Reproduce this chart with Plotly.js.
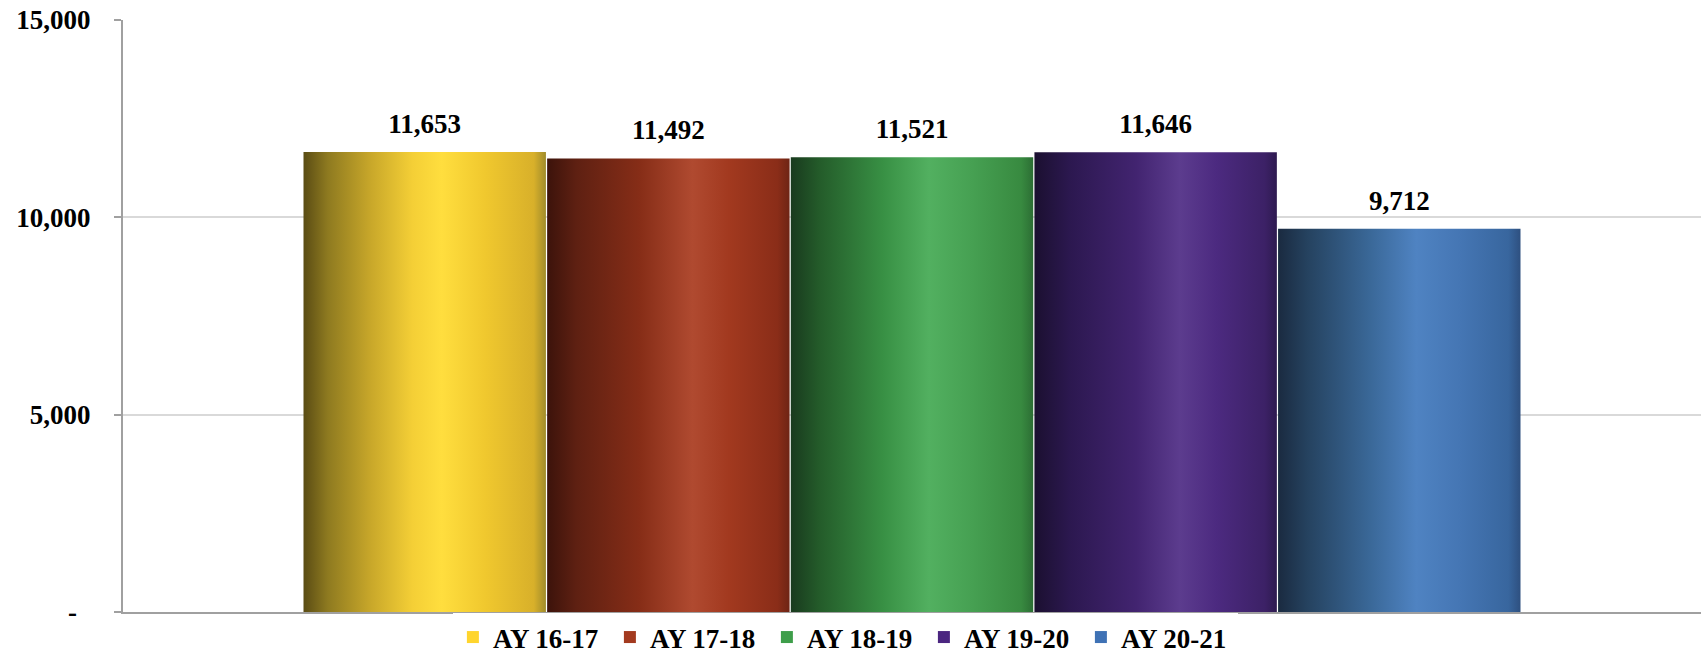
<!DOCTYPE html>
<html>
<head>
<meta charset="utf-8">
<script src="https://cdn.plot.ly/plotly-3.0.1.min.js"></script>
<style>
  html, body { margin: 0; padding: 0; background: #fff; }
  #chart { width: 1701px; height: 662px; }
</style>
</head>
<body>
<div id="chart"></div>
<script>
// ---- data ----
const categories = ['AY 16-17', 'AY 17-18', 'AY 18-19', 'AY 19-20', 'AY 20-21'];
const values = [11653, 11492, 11521, 11646, 9712];
const tickVals = [0, 5000, 10000, 15000];
const tickText = ['-\u00a0\u00a0', '5,000', '10,000', '15,000'];

// ---- styles ----
const legendColors = ['#FFD52E', '#A33A1F', '#3E9E4A', '#4B2680', '#3F72B5'];
const gradients = [
  [[0, '#5A4C14'], [0.1, '#8E7A20'], [0.28, '#C9A82A'], [0.45, '#F4CF36'], [0.57, '#FFDE3E'], [0.75, '#F0C82E'], [0.95, '#D8B02A'], [1, '#A08C2C']],
  [[0, '#3C130B'], [0.12, '#5E2012'], [0.38, '#862D17'], [0.6, '#B04A30'], [0.75, '#A2391F'], [0.95, '#8A2D18'], [1, '#6E2414']],
  [[0, '#193A1E'], [0.12, '#245C2A'], [0.38, '#389044'], [0.57, '#52B060'], [0.75, '#46A052'], [0.95, '#388A40'], [1, '#2C6E34']],
  [[0, '#1B1030'], [0.15, '#2C1850'], [0.42, '#422470'], [0.6, '#5C3C8E'], [0.75, '#4C2A80'], [0.95, '#3C2166'], [1, '#2E1A50']],
  [[0, '#1A2A40'], [0.12, '#25425F'], [0.38, '#3A6898'], [0.57, '#4F83C2'], [0.75, '#4576B4'], [0.95, '#38669E'], [1, '#2E5080']]
];
const fontFamily = '"Liberation Serif", "Times New Roman", serif';
const fontSize = 27;

const traces = categories.map((name, i) => ({
  type: 'bar',
  x: ['Total'],
  y: [values[i]],
  name: name,
  marker: { color: legendColors[i], line: { width: 0 } },
  text: [values[i].toLocaleString('en-US')],
  textposition: 'outside',
  cliponaxis: false,
  textfont: { family: fontFamily, size: fontSize, color: '#000', weight: 700 },
  hoverinfo: 'name+y'
}));

const layout = {
  width: 1701,
  height: 662,
  margin: { l: 123, r: 0, t: 20, b: 50 },
  paper_bgcolor: '#fff',
  plot_bgcolor: '#fff',
  font: { family: fontFamily, size: fontSize, color: '#000', weight: 700 },
  barmode: 'group',
  bargap: 0.228,
  bargroupgap: 0.005,
  showlegend: true,
  legend: {
    orientation: 'h',
    xref: 'container', yref: 'container',
    x: 0.497, xanchor: 'center',
    y: -0.008, yanchor: 'bottom',
    font: { family: fontFamily, size: fontSize, color: '#000', weight: 700 },
    entrywidth: 112,
    traceorder: 'normal'
  },
  xaxis: {
    showticklabels: false,
    showgrid: false,
    showline: true,
    linecolor: '#A0A0A0',
    linewidth: 2,
    ticks: '',
    zeroline: false,
    fixedrange: true
  },
  yaxis: {
    range: [0, 15000],
    tickvals: tickVals,
    ticktext: tickText,
    ticks: 'outside',
    ticklen: 7,
    tickwidth: 2,
    tickcolor: '#A0A0A0',
    ticklabelstandoff: 18,
    showline: true,
    linecolor: '#A0A0A0',
    linewidth: 2,
    showgrid: true,
    gridcolor: '#D9D9D9',
    gridwidth: 2,
    zeroline: false,
    fixedrange: true,
    tickfont: { family: fontFamily, size: fontSize, color: '#000', weight: 700 }
  }
};

const gd = document.getElementById('chart');
Plotly.newPlot(gd, traces, layout, { displayModeBar: false, staticPlot: true }).then(() => {
  const NS = 'http://www.w3.org/2000/svg';
  const svg = gd.querySelector('svg.main-svg');
  let defs = svg.querySelector('defs');
  if (!defs) { defs = document.createElementNS(NS, 'defs'); svg.insertBefore(defs, svg.firstChild); }
  gradients.forEach((stops, i) => {
    const lg = document.createElementNS(NS, 'linearGradient');
    lg.setAttribute('id', 'barGrad' + i);
    lg.setAttribute('x1', '0'); lg.setAttribute('y1', '0');
    lg.setAttribute('x2', '1'); lg.setAttribute('y2', '0');
    stops.forEach(([off, col]) => {
      const s = document.createElementNS(NS, 'stop');
      s.setAttribute('offset', off);
      s.setAttribute('stop-color', col);
      lg.appendChild(s);
    });
    defs.appendChild(lg);
  });
  const traceGroups = gd.querySelectorAll('.barlayer .trace');
  traceGroups.forEach((g, i) => {
    g.querySelectorAll('.point path').forEach(p => { p.style.fill = 'url(#barGrad' + i + ')'; });
    g.querySelectorAll('text.bartext').forEach(t => {
      const tr = t.getAttribute('transform') || '';
      t.setAttribute('transform', 'translate(0,-10) ' + tr);
    });
  });
});
</script>
</body>
</html>
